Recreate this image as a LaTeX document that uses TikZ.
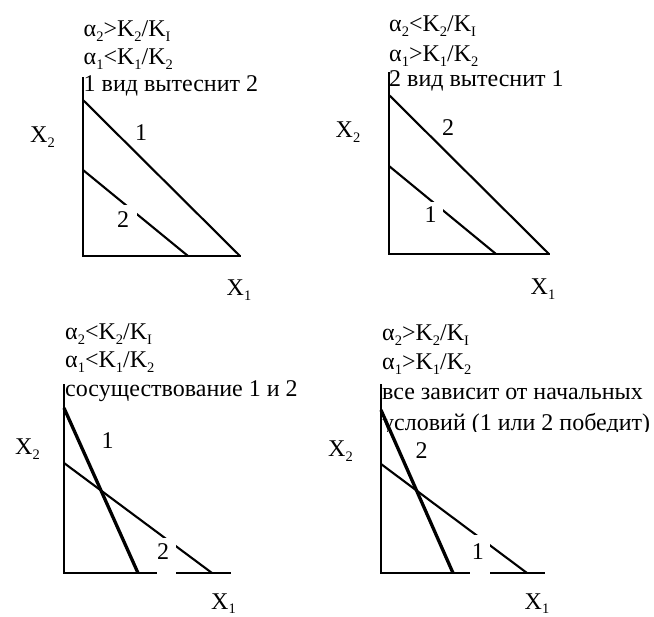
\documentclass[tikz,border=0pt]{standalone}
\usepackage{fontspec}
\setmainfont{Liberation Serif}
\newcommand{\sbs}[1]{\raisebox{-0.2em}{\fontsize{14.5}{14.5}\selectfont #1}}
\tikzset{
  axisline/.style={line width=1.3pt, line cap=rect},
  thinline/.style={line width=2.1pt},
  thickline/.style={line width=3.3pt},
  txt/.style={anchor=base west, inner sep=0pt, font=\fontsize{24}{28}\selectfont},
  axlabel/.style={anchor=base, inner sep=0pt, font=\fontsize{24}{28}\selectfont},
  num/.style={inner sep=0pt, fill=white, font=\fontsize{24}{28}\selectfont},
}
\begin{document}
\begin{tikzpicture}[x=1pt,y=-1pt]
\useasboundingbox (0,0) rectangle (654,617);

% ---------- panel 1 ----------
\node[txt] (t1a) at (83.5,37) {α\sbs{2}>K\sbs{2}/K\sbs{I}};
\node[txt] (t1b) at (83.5,65) {α\sbs{1}<K\sbs{1}/K\sbs{2}};
\node[txt] (t1c) at (83.5,92) {1 вид вытеснит 2};
\coordinate (p1top) at (83,78);
\coordinate (p1o) at (83,256);
\coordinate (p1x) at (240,256);
\coordinate (p1a) at (83,100);
\coordinate (p1b) at (83,170);
\coordinate (p1c) at (188,256);
\draw[axisline] (p1top) -- (p1o) -- (p1x);
\draw[thinline] (p1a) -- (p1x);
\draw[thinline] (p1b) -- (p1c);
\node[num, minimum width=16pt, minimum height=28pt] (p1n1) at (141,133) {1};
\node[num, minimum width=28pt, minimum height=30pt] (p1n2) at (123,220) {2};
\node[axlabel] (p1X2) at (42.5,142.5) {X\sbs{2}};
\node[axlabel] (p1X1) at (239,296) {X\sbs{1}};

% ---------- panel 2 ----------
\node[txt] (t2a) at (389,32) {α\sbs{2}<K\sbs{2}/K\sbs{I}};
\node[txt] (t2b) at (389,61.5) {α\sbs{1}>K\sbs{1}/K\sbs{2}};
\node[txt] (t2c) at (389,87) {2 вид вытеснит 1};
\coordinate (p2top) at (389,73);
\coordinate (p2o) at (389,254);
\coordinate (p2x) at (549,254);
\coordinate (p2a) at (389,95);
\coordinate (p2b) at (389,166);
\coordinate (p2c) at (496,254);
\draw[axisline] (p2top) -- (p2o) -- (p2x);
\draw[thinline] (p2a) -- (p2x);
\draw[thinline] (p2b) -- (p2c);
\node[num, minimum width=16pt, minimum height=28pt] (p2n2) at (448,128) {2};
\node[num, minimum width=25pt, minimum height=26pt] (p2n1) at (430.5,215) {1};
\node[axlabel] (p2X2) at (348,138) {X\sbs{2}};
\node[axlabel] (p2X1) at (543,295) {X\sbs{1}};

% ---------- panel 3 ----------
\node[txt] (t3a) at (65,340) {α\sbs{2}<K\sbs{2}/K\sbs{I}};
\node[txt] (t3b) at (65,368) {α\sbs{1}<K\sbs{1}/K\sbs{2}};
\node[txt] (t3c) at (65,396.5) {сосуществование 1 и 2};
\coordinate (p3top) at (64,385);
\coordinate (p3o) at (64,573);
\coordinate (p3x) at (230,573);
\coordinate (p3a) at (64,408);
\coordinate (p3b) at (138,573);
\coordinate (p3c) at (64,463);
\coordinate (p3d) at (212,573);
\draw[axisline] (p3top) -- (p3o) -- (p3x);
\draw[thickline] (p3a) -- (p3b);
\draw[thinline] (p3c) -- (p3d);
\node[num] (p3n1) at (107.5,441) {1};
\node[num, anchor=north west, text height=21.2pt, text depth=16.7pt] (p3n2) at (157,538) {\makebox[19pt][l]{2}};
\node[axlabel] (p3X2) at (27.5,455) {X\sbs{2}};
\node[axlabel] (p3X1) at (223.5,609) {X\sbs{1}};

% ---------- panel 4 ----------
\node[txt] (t4a) at (382,341) {α\sbs{2}>K\sbs{2}/K\sbs{I}};
\node[txt] (t4b) at (382,370) {α\sbs{1}>K\sbs{1}/K\sbs{2}};
\node[txt] (t4c) at (382,400) {все зависит от начальных};
\begin{scope}
  \clip (370,380) rectangle (654,431.5);
  \node[txt] (t4d) at (382,430.5) {условий (1 или 2 победит)};
\end{scope}
\coordinate (p4top) at (381,385);
\coordinate (p4o) at (381,573);
\coordinate (p4x) at (544,573);
\coordinate (p4a) at (381,410);
\coordinate (p4b) at (453,573);
\coordinate (p4c) at (381,464);
\coordinate (p4d) at (527,573);
\draw[axisline] (p4top) -- (p4o) -- (p4x);
\draw[thickline] (p4a) -- (p4b);
\draw[thinline] (p4c) -- (p4d);
\node[num] (p4n2) at (421.7,450.5) {2};
\node[num, anchor=north west, text height=24.2pt, text depth=16.7pt] (p4n1) at (470,535) {\makebox[20pt][l]{\hspace{1.75pt}1}};
\node[axlabel] (p4X2) at (340.5,457) {X\sbs{2}};
\node[axlabel] (p4X1) at (537,609) {X\sbs{1}};
\end{tikzpicture}
\end{document}
